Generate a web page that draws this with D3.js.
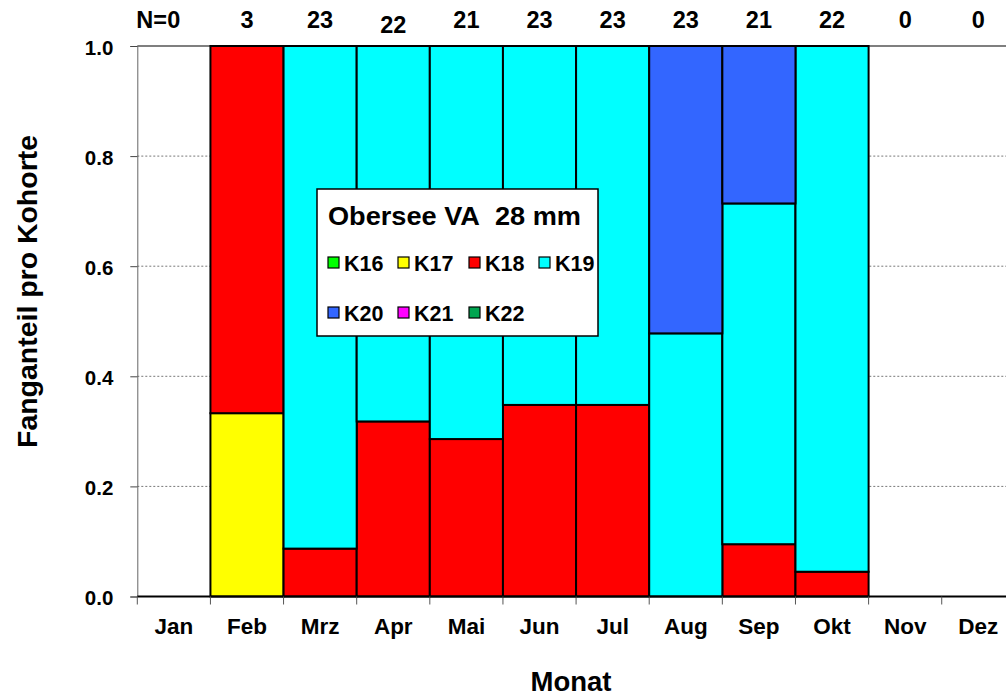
<!DOCTYPE html>
<html><head><meta charset="utf-8">
<script src="https://cdn.jsdelivr.net/npm/d3@7"></script>
<style>body{margin:0;background:#fff}svg{display:block}text{font-family:"Liberation Sans",Arial,sans-serif;font-weight:bold;fill:#000}</style>
</head><body><svg id="c" width="1006" height="699"></svg>
<script>
const months = ["Jan","Feb","Mrz","Apr","Mai","Jun","Jul","Aug","Sep","Okt","Nov","Dez"];
const nCounts = [0,3,23,22,21,23,23,23,21,22,0,0];
const cohorts = ["K16","K17","K18","K19","K20","K21","K22"];
const K16 = [0,0,0,0,0,0,0,0,0,0,0,0];
const K17 = [0,0.333,0,0,0,0,0,0,0,0,0,0];
const K18 = [0,0.667,0.087,0.318,0.286,0.348,0.348,0,0.095,0.045,0,0];
const K19 = [0,0,0.913,0.682,0.714,0.652,0.652,0.478,0.619,0.955,0,0];
const K20 = [0,0,0,0,0,0,0,0.522,0.286,0,0,0];
const K21 = [0,0,0,0,0,0,0,0,0,0,0,0];
const K22 = [0,0,0,0,0,0,0,0,0,0,0,0];
const colors = ["#00ff00","#ffff00","#ff0000","#00ffff","#3366ff","#ff00ff","#00a550"];
const yTicks = [0,0.2,0.4,0.6,0.8,1.0];
const legendTitle = "Obersee VA\u00a0\u00a028 mm";

(function(){
const series = {K16,K17,K18,K19,K20,K21,K22};
const table = months.map((m,i)=>{const o={month:m};cohorts.forEach(c=>o[c]=series[c][i]);return o;});
const stacked = d3.stack().keys(cohorts)(table);

const svg = d3.select("#c");
const mLeft = 137.3, plotW = 73.13*12, mTop = 46, mBottom = 596.5;
const x = d3.scaleBand().domain(months).range([mLeft, mLeft+plotW]).padding(0);
const y = d3.scaleLinear().domain([0,1]).range([mBottom, mTop]);

svg.append("g").selectAll("line").data(yTicks.filter(t=>t>0&&t<1)).join("line")
  .attr("x1",mLeft).attr("x2",1006).attr("y1",d=>y(d)).attr("y2",d=>y(d))
  .attr("stroke","#777").attr("stroke-width",1).attr("stroke-dasharray","2,2");
svg.append("line").attr("x1",mLeft).attr("x2",1006).attr("y1",y(1)).attr("y2",y(1)).attr("stroke","#000").attr("stroke-width",1.2);

stacked.forEach((s,k)=>{
  svg.append("g").selectAll("rect").data(s.filter(d=>d[1]-d[0]>0)).join("rect")
    .attr("x",d=>x(d.data.month)).attr("width",x.bandwidth())
    .attr("y",d=>y(d[1])).attr("height",d=>y(d[0])-y(d[1]))
    .attr("fill",colors[k]).attr("stroke","#000").attr("stroke-width",2);
});

const ya = svg.append("g").attr("transform",`translate(${mLeft},0)`)
  .call(d3.axisLeft(y).tickValues(yTicks).tickFormat(d3.format(".1f")).tickSize(7).tickPadding(17));
ya.select(".domain").attr("stroke","#666");
ya.selectAll(".tick line").attr("stroke","#444");
ya.selectAll("text").attr("font-size",20.5).attr("font-family","Liberation Sans, Arial").attr("font-weight","bold").attr("dy","0.4em");

const xa = svg.append("g").attr("transform",`translate(0,${mBottom})`)
  .call(d3.axisBottom(x).tickSize(0).tickPadding(22));
xa.select(".domain").remove();
svg.append("line").attr("x1",mLeft).attr("x2",1006).attr("y1",mBottom).attr("y2",mBottom).attr("stroke","#000").attr("stroke-width",2);
xa.selectAll("text").attr("font-size",22.5).attr("font-family","Liberation Sans, Arial").attr("font-weight","bold").attr("dy","0.7em");
svg.append("g").selectAll("line").data(months).join("line")
  .attr("x1",d=>x(d)).attr("x2",d=>x(d)).attr("y1",mBottom).attr("y2",mBottom+8)
  .attr("stroke","#555").attr("stroke-width",1);

svg.append("g").selectAll("text").data(nCounts).join("text")
  .attr("x",(d,i)=>x(months[i])+x.bandwidth()/2).attr("y",(d,i)=>i===3?33:28)
  .attr("text-anchor","middle").attr("font-size",23.5).text(d=>d);
svg.append("text").attr("x",x(months[0])+x.bandwidth()/2-7).attr("y",28)
  .attr("text-anchor","end").attr("font-size",23.5).text("N=");

svg.append("text").attr("x",571).attr("y",691).attr("text-anchor","middle").attr("font-size",27.5).text("Monat");
svg.append("text").attr("transform","translate(37,291.5) rotate(-90)").attr("text-anchor","middle").attr("font-size",27)
  .attr("textLength",313).attr("lengthAdjust","spacingAndGlyphs").text("Fanganteil pro Kohorte");

const lg = svg.append("g");
lg.append("rect").attr("x",317).attr("y",189).attr("width",281).attr("height",147).attr("fill","#fff").attr("stroke","#000").attr("stroke-width",1.5);
lg.append("text").attr("x",328).attr("y",225).attr("font-size",26)
  .attr("textLength",253).attr("lengthAdjust","spacingAndGlyphs").text(legendTitle);
const colX = [328,398,469,539], rowY = [263,313];
cohorts.forEach((c,i)=>{
  const cx = colX[i%4], cy = rowY[Math.floor(i/4)];
  lg.append("rect").attr("x",cx).attr("y",cy-6).attr("width",11).attr("height",11).attr("fill",colors[i]).attr("stroke","#000").attr("stroke-width",1.2);
  lg.append("text").attr("x",cx+16).attr("y",cy+8).attr("font-size",21.5).text(c);
});
})();
</script></body></html>
